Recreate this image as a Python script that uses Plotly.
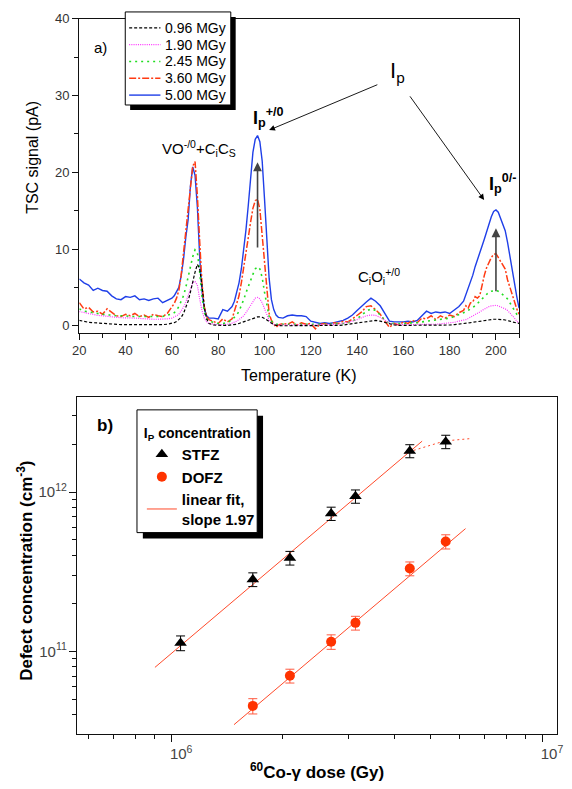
import plotly.graph_objects as go

FONT = "Liberation Sans, Arial, Helvetica, sans-serif"
W, H = 572, 789


def px(x):
    return x / W


def py(y):
    return 1 - y / H


# ---------------- (a) TSC spectra ----------------
temp_k = (list(range(20, 60, 2)) + list(range(60, 77)) + [78, 80, 82, 84]
          + list(range(86, 107)) + list(range(108, 185, 2)) + list(range(186, 211)))

tsc_500 = ([6.1, 5.6, 5.3, 4.6, 4.9, 4.6, 4.5, 3.9, 3.5, 3.4, 3.8, 3.7, 3.9, 3.4, 3.5, 3.3, 3.5, 3.6, 3.0, 3.3]
           + [3.6, 3.9, 4.4, 5.0, 6.5, 8.6, 11.5, 13.8, 18.2, 20.7, 19.6, 15.5, 9.0, 4.5, 2.2, 1.3, 1.0]
           + [1.0, 0.9, 2.1, 1.9]
           + [2.5, 3.2, 4.3, 5.6, 7.4, 9.8, 12.5, 15.7, 19.5, 22.6, 24.3, 24.8, 24.0, 21.5, 16.6, 11.0, 6.2, 3.4, 2.1, 1.4, 1.1]
           + [1.0, 1.3, 1.4, 1.3, 1.3, 1.2, 0.6, 0.4, 0.3, 0.4, 0.3, 0.4, 0.5, 0.7, 1.0, 1.4, 2.0, 2.6, 3.1, 3.6,
              3.2, 2.6, 1.5, 0.6, 0.5, 0.5, 0.5, 0.6, 0.5, 0.7, 1.3, 1.9, 1.6, 1.8, 1.7, 1.8, 1.6, 2.0, 2.5]
           + [3.2, 4.0, 4.8, 5.6, 6.6, 7.7, 8.7, 9.6, 10.4, 11.3, 12.3, 13.3, 14.2, 14.9, 15.1, 14.8, 14.0, 13.2,
              12.4, 10.9, 9.3, 7.6, 5.6, 3.8, 2.3])

tsc_360 = ([3.0, 2.2, 2.4, 1.8, 1.9, 1.5, 2.2, 1.7, 1.3, 1.2, 1.5, 1.3, 1.6, 1.2, 1.4, 1.1, 1.5, 1.3, 1.2, 1.6]
           + [2.4, 2.9, 3.6, 4.6, 6.6, 9.4, 12.8, 15.5, 18.6, 20.8, 21.4, 17.0, 11.0, 5.5, 2.5, 1.2, 0.8]
           + [0.6, 0.3, 0.9, 0.5]
           + [0.9, 2.0, 2.8, 3.9, 5.6, 7.4, 9.6, 11.5, 13.5, 15.3, 16.3, 16.5, 15.2, 11.8, 7.8, 4.2, 1.6, 0.7, 0.2, -0.2, 0.1]
           + [0.3, 0.2, 0.5, 0.1, 0.4, 0.2, 0.3, -0.4, 0.2, 0.3, 0.1, 0.4, 0.3, 0.6, 0.5, 0.9, 1.3, 1.8, 2.5, 2.6,
              2.1, 1.5, 0.6, -0.2, 0.3, 0.1, 0.5, 0.3, 0.7, 0.4, 1.0, 0.9, 1.3, 0.8, 1.3, 1.0, 1.4, 1.2, 1.7]
           + [2.0, 2.6, 2.3, 3.0, 3.1, 3.8, 3.6, 3.9, 5.5, 6.6, 7.6, 8.3, 8.9, 9.3, 9.4, 8.9, 8.4, 7.9, 7.4, 6.0,
              5.0, 4.1, 3.0, 2.2, 1.5])

tsc_245 = ([2.2, 1.9, 1.8, 1.7, 1.6, 1.5, 1.4, 1.4, 1.3, 1.3, 1.3, 1.2, 1.2, 1.2, 1.2, 1.2, 1.2, 1.2, 1.2, 1.4]
           + [1.5, 1.7, 2.0, 2.5, 3.1, 3.9, 5.0, 6.3, 7.8, 9.0, 9.9, 9.6, 7.0, 3.8, 1.8, 0.9, 0.6]
           + [0.4, 0.3, 0.3, 0.4]
           + [0.8, 1.1, 1.4, 1.9, 2.6, 3.4, 4.3, 5.2, 6.0, 6.7, 7.4, 7.7, 7.4, 6.3, 4.4, 2.6, 1.2, 0.6, 0.3, 0.2, 0.2]
           + [0.2, 0.2, 0.2, 0.2, 0.2, 0.2, 0.2, 0.2, 0.2, 0.2, 0.2, 0.2, 0.3, 0.3, 0.4, 0.6, 0.9, 1.4, 1.9, 2.2,
              2.0, 1.4, 0.7, 0.3, 0.3, 0.3, 0.3, 0.3, 0.4, 0.4, 0.5, 0.6, 0.6, 0.7, 0.8, 0.9, 1.0, 1.2, 1.5]
           + [1.7, 1.8, 2.0, 2.1, 2.3, 2.6, 2.9, 3.2, 3.5, 3.8, 4.1, 4.4, 4.5, 4.6, 4.6, 4.5, 4.3, 4.1, 3.8, 3.5,
              3.0, 2.5, 1.9, 1.5, 1.2])

tsc_190 = ([1.85, 1.7, 1.55, 1.45, 1.35, 1.3, 1.2, 1.15, 1.1, 1.05, 1.05, 1.0, 1.0, 0.95, 0.9, 0.9, 0.85, 0.85, 0.85, 0.9]
           + [1.0, 1.1, 1.3, 1.5, 1.9, 2.4, 3.1, 4.0, 4.9, 5.6, 5.8, 5.3, 3.5, 2.0, 1.0, 0.5, 0.3]
           + [0.2, 0.15, 0.15, 0.2]
           + [0.35, 0.45, 0.6, 0.8, 1.0, 1.3, 1.7, 2.2, 2.7, 3.2, 3.6, 3.7, 3.5, 3.0, 2.2, 1.4, 0.7, 0.3, 0.15, 0.1, 0.1]
           + [0.1, 0.1, 0.1, 0.1, 0.1, 0.1, 0.1, 0.1, 0.1, 0.1, 0.1, 0.15, 0.2, 0.3, 0.4, 0.6, 0.8, 1.1, 1.3, 1.4,
              1.35, 1.1, 0.7, 0.35, 0.2, 0.15, 0.15, 0.15, 0.15, 0.15, 0.15, 0.15, 0.2, 0.2, 0.25, 0.3, 0.35, 0.45, 0.6]
           + [0.7, 0.8, 0.95, 1.1, 1.25, 1.4, 1.6, 1.8, 2.0, 2.2, 2.35, 2.5, 2.6, 2.65, 2.65, 2.6, 2.5, 2.4, 2.2, 2.0,
              1.7, 1.3, 1.0, 0.6, 0.3])

tsc_096 = ([0.7, 0.55, 0.45, 0.4, 0.35, 0.35, 0.3, 0.25, 0.2, 0.15, 0.15, 0.15, 0.15, 0.15, 0.1, 0.1, 0.15, 0.15, 0.15, 0.2]
           + [0.3, 0.4, 0.55, 0.8, 1.1, 1.6, 2.3, 3.2, 4.4, 5.8, 7.0, 8.0, 7.4, 5.3, 2.4, 0.9, 0.3]
           + [0.1, 0.05, 0.05, 0.05]
           + [0.1, 0.15, 0.2, 0.3, 0.4, 0.5, 0.6, 0.75, 0.9, 1.0, 1.1, 1.15, 1.15, 1.1, 0.95, 0.75, 0.5, 0.3, 0.15, 0.05, 0.0]
           + [0.0, 0.0, 0.0, 0.0, 0.0, 0.0, 0.0, 0.0, 0.0, 0.05, 0.05, 0.05, 0.05, 0.1, 0.2, 0.3, 0.4, 0.5, 0.6, 0.7,
              0.7, 0.6, 0.4, 0.25, 0.1, 0.05, 0.05, 0.05, 0.05, 0.05, 0.05, 0.05, 0.05, 0.05, 0.05, 0.1, 0.1, 0.15, 0.2]
           + [0.25, 0.3, 0.35, 0.4, 0.45, 0.5, 0.55, 0.6, 0.65, 0.7, 0.75, 0.8, 0.8, 0.85, 0.85, 0.85, 0.8, 0.8, 0.75,
              0.7, 0.6, 0.5, 0.45, 0.35, 0.3])

dose_labels = ["0.96 MGy", "1.90 MGy", "2.45 MGy", "3.60 MGy", "5.00 MGy"]
tsc_series = [tsc_096, tsc_190, tsc_245, tsc_360, tsc_500]
tsc_colors = ["#000000", "#ff33ff", "#22dd22", "#ff3a12", "#1f3fe8"]
tsc_dash = ["3px,2px", "1px,1.2px", "2px,4px", "7px,2px,2px,2px", "solid"]
tsc_width = [1.2, 1.2, 1.6, 1.5, 1.4]
draw_order = [4, 3, 2, 1, 0]

# Peak arrows: temperature, start value, end value
growth_arrows = [(97, 10.0, 21.3), (200, 4.3, 12.7)]

# ---------------- (b) Ip concentration vs dose ----------------
dose_stfz = [1.06e6, 1.66e6, 2.09e6, 2.70e6, 3.14e6, 4.40e6, 5.50e6]
conc_stfz = [1.13e11, 2.83e11, 3.86e11, 7.33e11, 9.4e11, 1.81e12, 2.07e12]
err_stfz = [0.12e11, 0.28e11, 0.38e11, 0.7e11, 0.9e11, 0.17e12, 0.2e12]

dose_dofz = [1.66e6, 2.09e6, 2.70e6, 3.14e6, 4.40e6, 5.50e6]
conc_dofz = [4.55e10, 7.03e10, 1.15e11, 1.51e11, 3.31e11, 4.89e11]
err_dofz = [0.5e10, 0.7e10, 0.12e11, 0.15e11, 0.33e11, 0.5e11]

fit_slope = 1.97
fit_stfz_logA, fit_stfz_dose = -0.834, [9.04e5, 4.75e6]
fit_dofz_logA, fit_dofz_dose = -1.6135, [1.477e6, 6.22e6]

sat_dose = [4.25e6, 5.46e6, 6.37e6]
sat_conc = [1.75e12, 2.09e12, 2.16e12]

RED = "#ff3300"
FIT_RED = "#ff4a2a"

fig = go.Figure()

for i in draw_order:
    fig.add_trace(go.Scatter(
        x=temp_k, y=tsc_series[i], mode="lines", name=dose_labels[i],
        line=dict(color=tsc_colors[i], width=tsc_width[i], dash=tsc_dash[i]),
        xaxis="x", yaxis="y", showlegend=False, hoverinfo="skip"))


def fit_line(logA, doses):
    return [10 ** logA * d ** fit_slope for d in doses]


fig.add_trace(go.Scatter(
    x=fit_stfz_dose, y=fit_line(fit_stfz_logA, fit_stfz_dose), mode="lines",
    line=dict(color=FIT_RED, width=1), name="linear fit,<br>slope 1.97",
    xaxis="x2", yaxis="y2", legend="legend2", legendrank=3))
fig.add_trace(go.Scatter(
    x=fit_dofz_dose, y=fit_line(fit_dofz_logA, fit_dofz_dose), mode="lines",
    line=dict(color=FIT_RED, width=1), showlegend=False,
    xaxis="x2", yaxis="y2"))
fig.add_trace(go.Scatter(
    x=sat_dose, y=sat_conc, mode="lines",
    line=dict(color=FIT_RED, width=1, dash="2px,3px"), showlegend=False,
    xaxis="x2", yaxis="y2"))
fig.add_trace(go.Scatter(
    x=dose_stfz, y=conc_stfz, mode="markers", name="STFZ",
    marker=dict(symbol="triangle-up", size=11, color="black"),
    error_y=dict(type="data", array=err_stfz, color="black", thickness=1, width=4.5),
    xaxis="x2", yaxis="y2", legend="legend2", legendrank=1))
fig.add_trace(go.Scatter(
    x=dose_dofz, y=conc_dofz, mode="markers", name="DOFZ",
    marker=dict(symbol="circle", size=10, color=RED),
    error_y=dict(type="data", array=err_dofz, color="#ff5a40", thickness=1, width=4.5),
    xaxis="x2", yaxis="y2", legend="legend2", legendrank=2))

tick_font = dict(family=FONT, size=13, color="#333333")
axis_common = dict(showline=True, mirror=True, linecolor="#111111", linewidth=1.3,
                   showgrid=False, zeroline=False, ticks="outside", tickcolor="#111111",
                   tickwidth=1, ticklen=6)

annotations = []

# vertical growth arrows in (a)
for t, v0, v1 in growth_arrows:
    annotations.append(dict(x=t, y=v1, ax=t, ay=v0, xref="x", yref="y", axref="x", ayref="y",
                            text="", showarrow=True, arrowhead=2, arrowsize=1.1, arrowwidth=1.6,
                            arrowcolor="#444444"))

# Ip pointer arrows in (a)
annotations.append(dict(x=102.0, y=25.5, ax=149.4, ay=31.5, xref="x", yref="y", axref="x", ayref="y",
                        text="", showarrow=True, arrowhead=2, arrowsize=1.3, arrowwidth=0.9,
                        arrowcolor="black"))
annotations.append(dict(x=194.9, y=16.4, ax=162.4, ay=30.1, xref="x", yref="y", axref="x", ayref="y",
                        text="", showarrow=True, arrowhead=2, arrowsize=1.3, arrowwidth=0.9,
                        arrowcolor="black"))


def label(x, y, txt, size, angle=0, anchor="center"):
    return dict(x=px(x), y=py(y), xref="paper", yref="paper", text=txt, showarrow=False,
                textangle=angle, font=dict(family=FONT, size=size, color="black"),
                xanchor=anchor, yanchor="middle")


annotations += [
    label(400, 66, "I<sub>p</sub>", 22),
    label(268, 112, "<b>I<sub>p</sub><sup>+/0</sup></b>", 18),
    label(507, 178, "<b>I<sub>p</sub><sup>0/-</sup></b>", 18),
    label(196, 143, "VO<sup>-/0</sup>+C<sub>i</sub>C<sub>S</sub>", 15),
    label(381, 272, "C<sub>i</sub>O<sub>i</sub><sup>+/0</sup>", 15),
    label(96, 41, "a)", 15),
    label(100, 423, "<b>b)</b>", 17),
    # axis titles
    label(26, 152, "TSC signal (pA)", 16, angle=-90),
    label(299, 372, "Temperature (K)", 16),
    label(19, 570, "<b>Defect concentration (cm<sup>-3</sup>)</b>", 17, angle=-90),
    label(317, 772, "<b><sup>60</sup>Co-γ dose (Gy)</b>", 17),
]

# legend of (a): frame, shadow, samples and labels
shapes = [
    dict(type="rect", xref="paper", yref="paper", x0=px(126), x1=px(234), y0=py(104), y1=py(10),
         fillcolor="black", line=dict(width=0), layer="above"),
    dict(type="rect", xref="paper", yref="paper", x0=px(121), x1=px(229), y0=py(99), y1=py(5),
         fillcolor="white", line=dict(color="black", width=1), layer="above"),
    # legend of (b): shadow and frame
    dict(type="rect", xref="paper", yref="paper", x0=px(139), x1=px(262), y0=py(537), y1=py(413),
         fillcolor="black", line=dict(width=0), layer="above"),
    dict(type="rect", xref="paper", yref="paper", x0=px(133), x1=px(256), y0=py(531), y1=py(407),
         fillcolor="white", line=dict(color="black", width=1), layer="above"),
]
legend_rows = [21, 38, 55, 72, 89]
for k, row in enumerate(legend_rows):
    shapes.append(dict(type="line", xref="paper", yref="paper", x0=px(125), x1=px(157),
                       y0=py(row), y1=py(row), layer="above",
                       line=dict(color=tsc_colors[k], width=tsc_width[k], dash=tsc_dash[k])))
    annotations.append(label(160, row, dose_labels[k], 14, anchor="left"))

fig.update_layout(
    width=W, height=H, margin=dict(l=0, r=0, t=0, b=0),
    paper_bgcolor="white", plot_bgcolor="white",
    font=dict(family=FONT, color="black"),
    xaxis=dict(axis_common, domain=[px(74), px(524)], range=[20, 210], anchor="y",
               dtick=20, tick0=20, tickfont=tick_font,
               minor=dict(dtick=10, ticks="outside", ticklen=4, tickcolor="#111111")),
    yaxis=dict(axis_common, domain=[py(329), py(12)], range=[-0.9, 40], anchor="x",
               dtick=10, tick0=0, tickfont=tick_font,
               minor=dict(dtick=5, ticks="outside", ticklen=4, tickcolor="#111111")),
    xaxis2=dict(axis_common, domain=[px(72), px(563)], type="log", range=[5.747, 7.041],
                anchor="y2", dtick=1, exponentformat="power", showexponent="all", ticklen=7,
                ticklabelshift=10,
                tickfont=dict(family=FONT, size=12, color="#444444"),
                minor=dict(dtick="D1", ticks="outside", ticklen=4, tickcolor="#111111")),
    yaxis2=dict(axis_common, domain=[py(734), py(394)], type="log", range=[10.4845, 12.596],
                anchor="x2", dtick=1, exponentformat="power", showexponent="all", ticklen=7,
                tickfont=dict(family=FONT, size=12, color="#444444"),
                minor=dict(dtick="D1", ticks="outside", ticklen=4, tickcolor="#111111")),
    legend2=dict(x=px(138), y=py(417), xanchor="left", yanchor="top",
                 bgcolor="rgba(0,0,0,0)", borderwidth=0,
                 font=dict(family=FONT, size=15, color="black", weight="bold"),
                 title=dict(text="I<sub>P</sub> concentration",
                            font=dict(family=FONT, size=14, color="black", weight="bold")),
                 tracegroupgap=0),
    annotations=annotations,
    shapes=shapes,
)

fig.write_html("out.html")
